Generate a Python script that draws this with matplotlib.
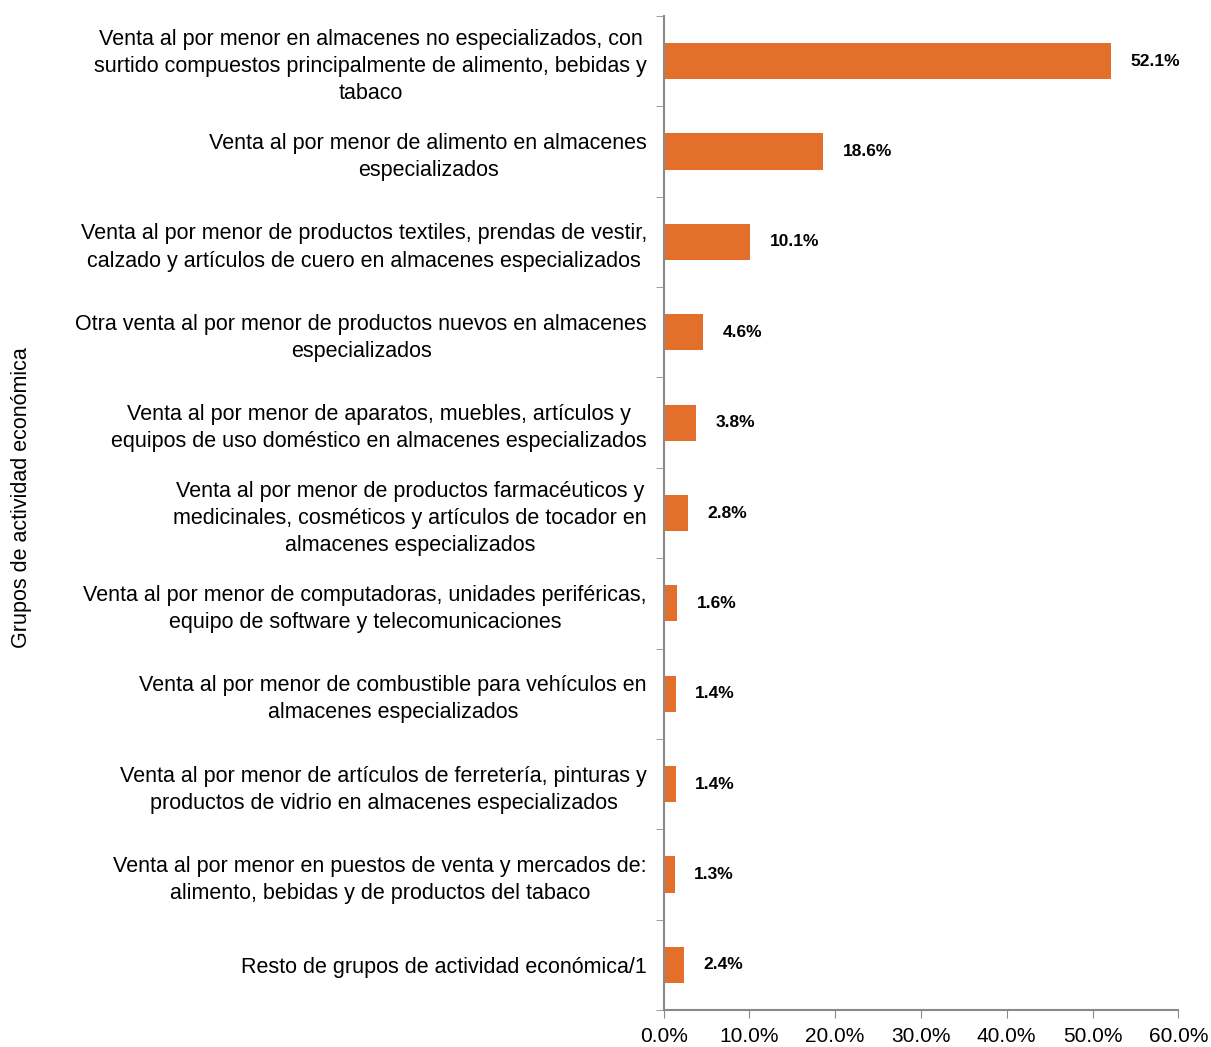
import matplotlib.pyplot as plt
from matplotlib.ticker import FixedLocator, FuncFormatter

categories = [
    'Venta al por menor en almacenes no especializados, con\nsurtido compuestos principalmente de alimento, bebidas y\ntabaco',
    'Venta al por menor de alimento en almacenes\nespecializados',
    'Venta al por menor de productos textiles, prendas de vestir,\ncalzado y artículos de cuero en almacenes especializados',
    'Otra venta al por menor de productos nuevos en almacenes\nespecializados',
    'Venta al por menor de aparatos, muebles, artículos y\nequipos de uso doméstico en almacenes especializados',
    'Venta al por menor de productos farmacéuticos y\nmedicinales, cosméticos y artículos de tocador en\nalmacenes especializados',
    'Venta al por menor de computadoras, unidades periféricas,\nequipo de software y telecomunicaciones',
    'Venta al por menor de combustible para vehículos en\nalmacenes especializados',
    'Venta al por menor de artículos de ferretería, pinturas y\nproductos de vidrio en almacenes especializados',
    'Venta al por menor en puestos de venta y mercados de:\nalimento, bebidas y de productos del tabaco',
    'Resto de grupos de actividad económica/1',
]
values = [52.1, 18.6, 10.1, 4.6, 3.8, 2.8, 1.6, 1.4, 1.4, 1.3, 2.4]
x_ticks = [0, 10, 20, 30, 40, 50, 60]

bar_color = '#E36F2A'
axis_color = '#898989'

plt.rcParams['font.family'] = ['Liberation Sans', 'DejaVu Sans']

fig = plt.figure(figsize=(12.11, 10.47), dpi=100)
ax = fig.add_axes([0.548, 0.0353, 0.425, 0.9494])

pos = list(range(len(values)))
ax.barh(pos, values, height=0.4, color=bar_color)
ax.set_ylim(len(values) - 0.5, -0.5)
ax.set_xlim(0, 60)

for p, v in zip(pos, values):
    ax.annotate(f'{v:.1f}%', xy=(v, p), xytext=(14, 0), textcoords='offset points',
                va='center', ha='left', fontsize=12.5, fontweight='bold', color='black')

ax.set_yticks(pos)
ax.set_yticklabels(categories, fontsize=15.5)
for t in ax.get_yticklabels():
    t.set_multialignment('center')
    t.set_linespacing(1.38)
ax.tick_params(axis='y', which='major', length=0, pad=12)
ax.yaxis.set_minor_locator(FixedLocator([p - 0.5 for p in pos] + [len(values) - 0.5]))
ax.tick_params(axis='y', which='minor', length=6, color=axis_color, direction='out')

ax.set_xticks(x_ticks)
ax.xaxis.set_major_formatter(FuncFormatter(lambda x, _: f'{x:.1f}%'))
ax.tick_params(axis='x', labelsize=15, length=6, color=axis_color, direction='out', pad=6)

for s in ['top', 'right']:
    ax.spines[s].set_visible(False)
for s in ['left', 'bottom']:
    ax.spines[s].set_color(axis_color)
    ax.spines[s].set_linewidth(1.5)

fig.text(0.018, 0.525, 'Grupos de actividad económica', rotation=90,
         ha='center', va='center', fontsize=15.5)

fig.savefig('out.png', dpi=100)
